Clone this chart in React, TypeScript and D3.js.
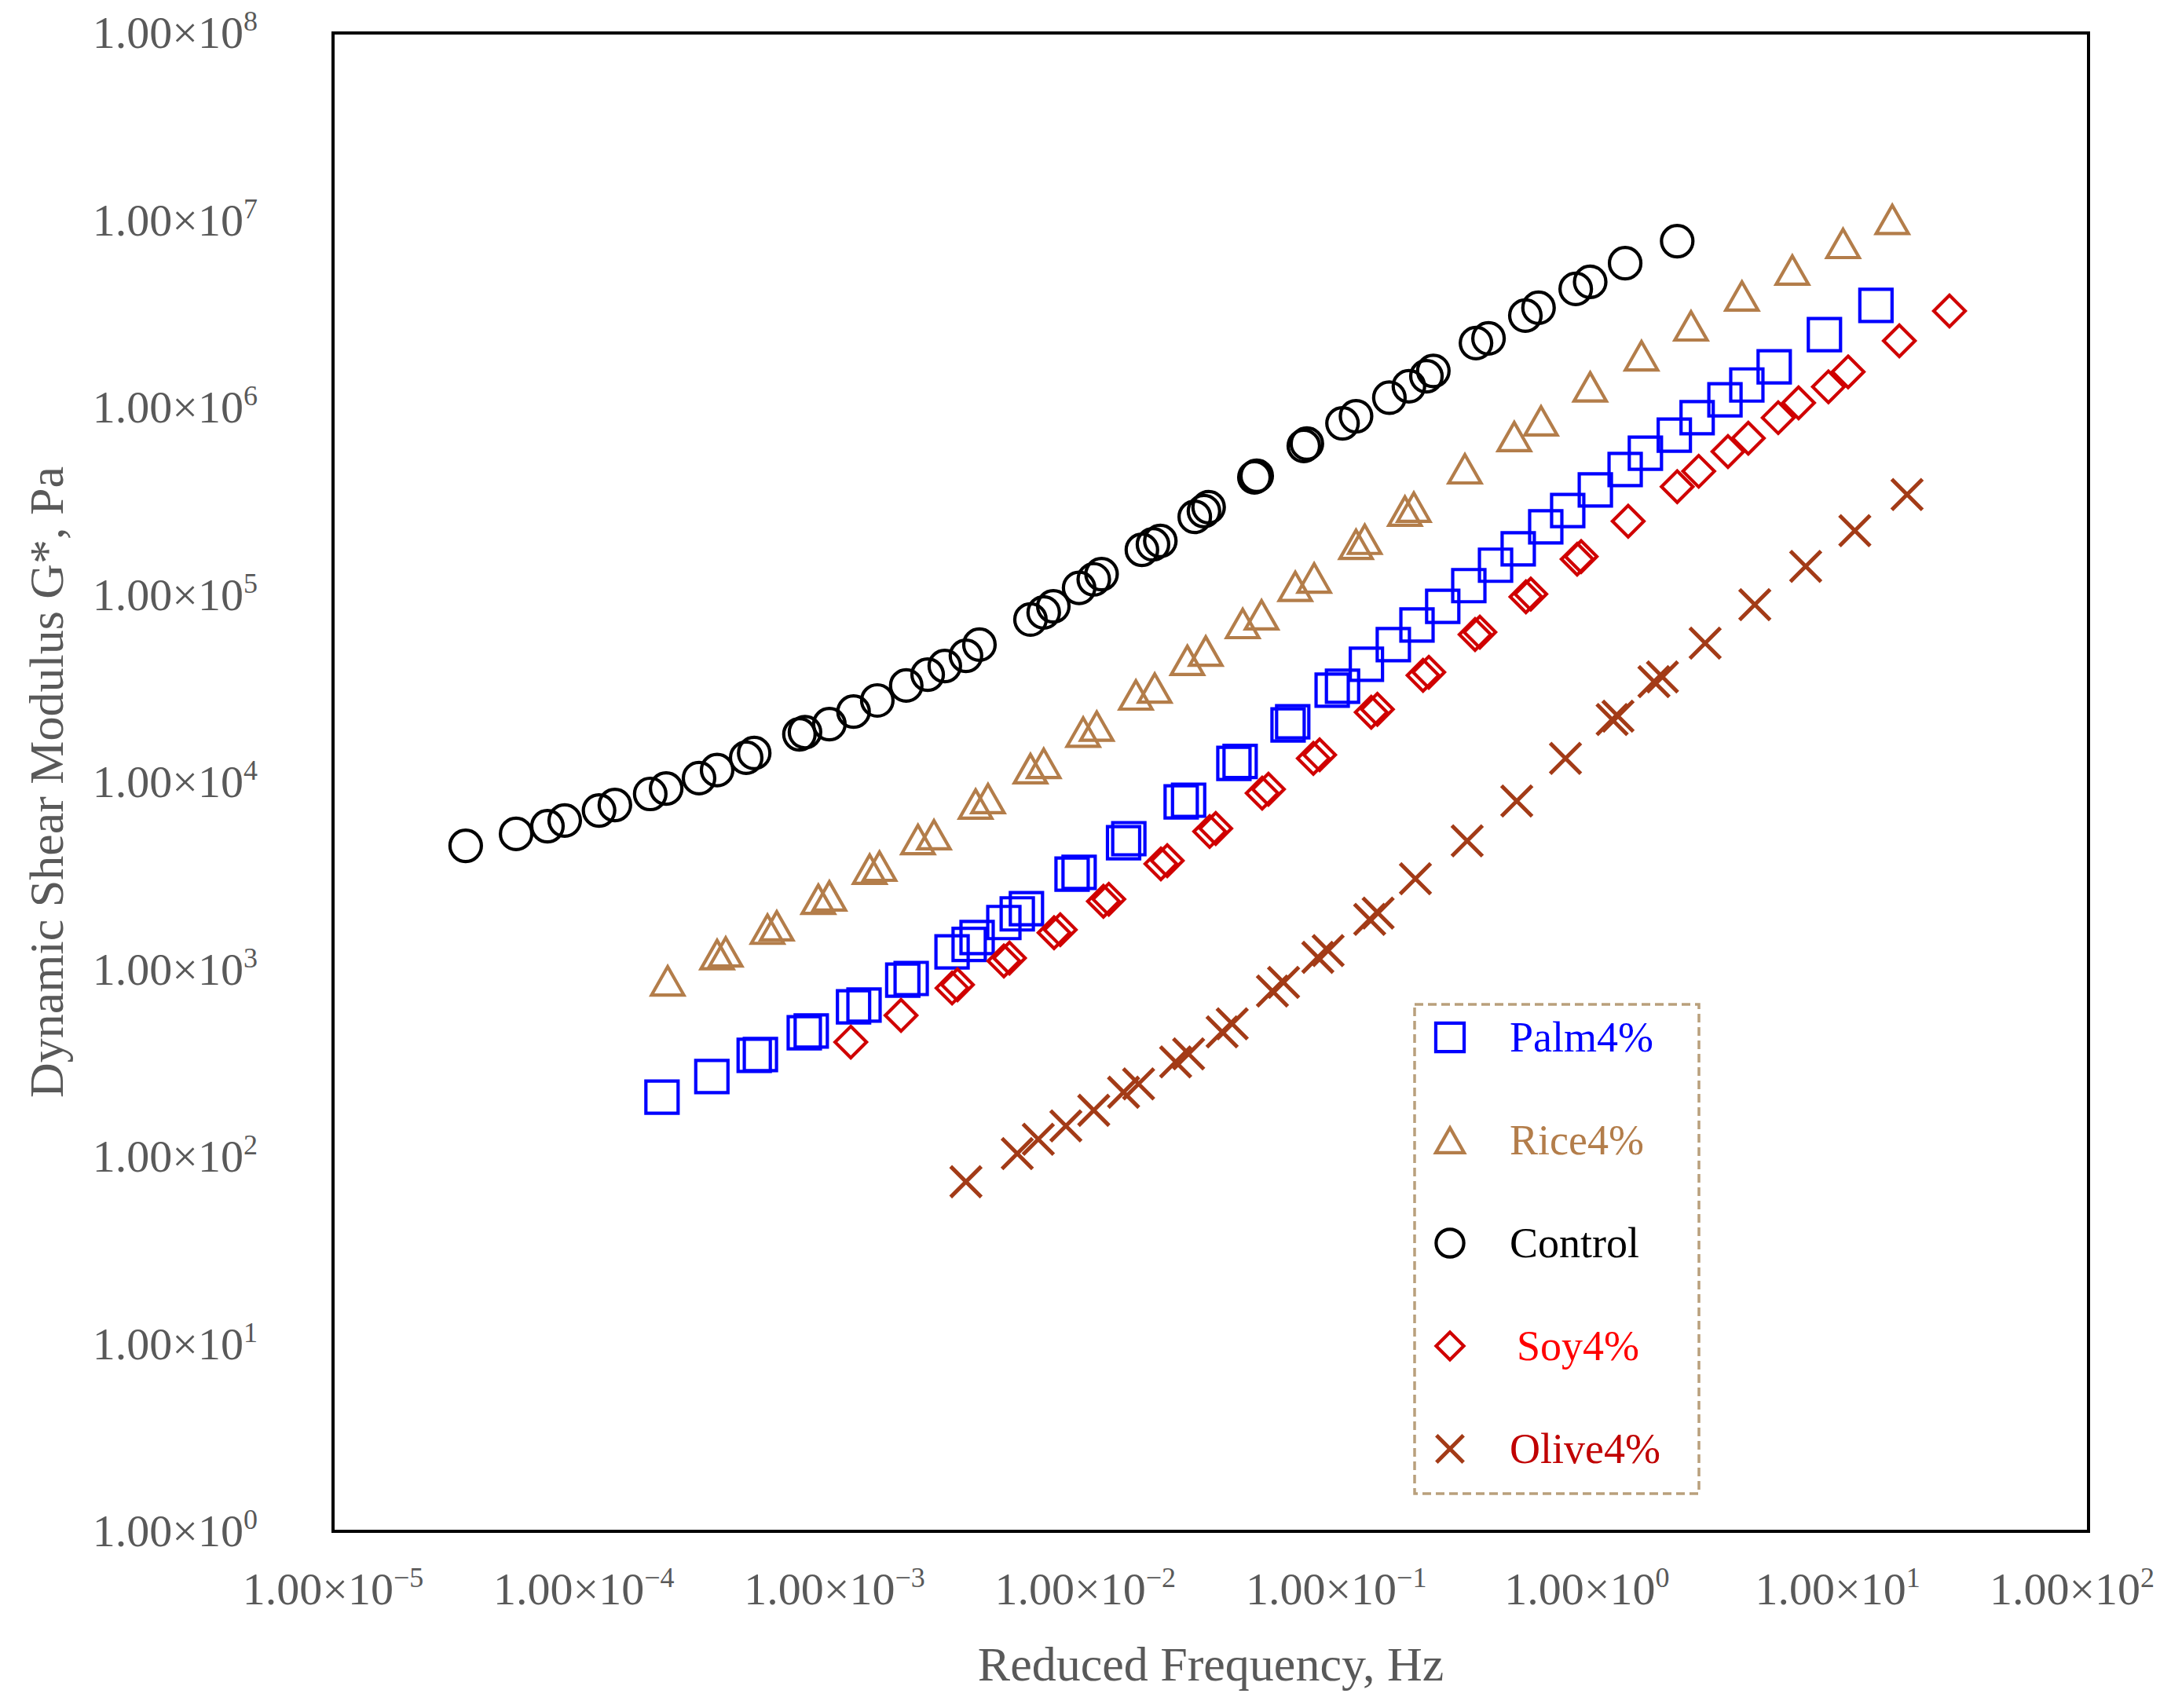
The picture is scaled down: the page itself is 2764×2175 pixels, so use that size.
import * as d3 from 'd3';

// Reduced frequency (Hz) and |G*| (Pa)
const palmFreq = [
  2.05e-4, 3.24e-4, 4.78e-4, 5.06e-4, 7.57e-4, 8.07e-4, 1.19e-3, 1.31e-3, 1.87e-3, 2.02e-3,
  2.94e-3, 3.44e-3, 3.7e-3, 4.73e-3, 5.35e-3, 5.82e-3, 8.85e-3, 9.44e-3, 1.42e-2, 1.49e-2,
  2.41e-2, 2.58e-2, 3.91e-2, 4.14e-2, 6.43e-2, 6.71e-2, 9.64e-2, 0.106, 0.132, 0.169,
  0.21, 0.266, 0.338, 0.432, 0.532, 0.685, 0.838, 1.08, 1.42, 1.71,
  2.23, 2.75, 3.55, 4.34, 5.58, 8.85, 14.2,
];
const palmG = [
  208, 268, 348, 351, 459, 469, 632, 645, 877, 895,
  1240, 1360, 1480, 1780, 1980, 2110, 3230, 3300, 4750, 4990,
  7850, 8010, 12600, 12900, 20200, 21000, 31000, 32500, 42600, 54200,
  69000, 86900, 112000, 144000, 176000, 231000, 282000, 363000, 467000, 571000,
  713000, 883000, 1100000, 1320000, 1650000, 2450000, 3510000,
];

const riceFreq = [
  2.16e-4, 3.4e-4, 3.68e-4, 5.4e-4, 5.88e-4, 8.61e-4, 9.53e-4, 1.38e-3, 1.51e-3, 2.15e-3,
  2.49e-3, 3.65e-3, 4.09e-3, 6.04e-3, 6.82e-3, 9.8e-3, 1.11e-2, 1.59e-2, 1.89e-2, 2.55e-2,
  3.02e-2, 4.24e-2, 5.04e-2, 6.87e-2, 8.17e-2, 0.12, 0.13, 0.188, 0.204, 0.326,
  0.513, 0.656, 1.03, 1.65, 2.6, 4.15, 6.59, 10.5, 16.5,
];
const riceG = [
  869, 1200, 1240, 1640, 1710, 2370, 2470, 3430, 3560, 4940,
  5240, 7640, 8170, 11800, 12600, 18500, 19900, 29200, 31800, 44700,
  50100, 70300, 78200, 111000, 123000, 186000, 198000, 280000, 294000, 471000,
  700000, 849000, 1290000, 1890000, 2730000, 3940000, 5420000, 7520000, 10100000,
];

const controlFreq = [
  3.38e-5, 5.37e-5, 7.16e-5, 8.39e-5, 1.15e-4, 1.33e-4, 1.84e-4, 2.13e-4, 2.88e-4, 3.4e-4,
  4.44e-4, 4.78e-4, 7.24e-4, 7.62e-4, 9.53e-4, 1.19e-3, 1.48e-3, 1.93e-3, 2.35e-3, 2.75e-3,
  3.34e-3, 3.78e-3, 6.04e-3, 6.82e-3, 7.45e-3, 9.44e-3, 1.08e-2, 1.16e-2, 1.68e-2, 1.86e-2,
  1.99e-2, 2.73e-2, 2.97e-2, 3.1e-2, 4.72e-2, 4.82e-2, 7.43e-2, 7.64e-2, 0.106, 0.12,
  0.163, 0.195, 0.229, 0.244, 0.361, 0.405, 0.568, 0.641, 0.902, 1.03,
  1.42, 2.29,
];
const controlG = [
  4570, 5290, 5820, 6240, 7060, 7550, 8650, 9250, 10500, 11600,
  13500, 14300, 18000, 18500, 20400, 23800, 27300, 32800, 37500, 41700,
  47300, 54200, 73800, 80500, 86900, 109000, 121000, 129000, 174000, 186000,
  194000, 261000, 280000, 294000, 424000, 432000, 624000, 642000, 824000, 899000,
  1130000, 1300000, 1470000, 1570000, 2210000, 2340000, 3100000, 3410000, 4300000, 4690000,
  5900000, 7740000,
];

const soyFreq = [
  1.16e-3, 1.84e-3, 2.94e-3, 3.09e-3, 4.73e-3, 4.98e-3, 7.5e-3, 7.94e-3, 1.18e-2, 1.24e-2,
  2.0e-2, 2.12e-2, 3.13e-2, 3.31e-2, 5.07e-2, 5.37e-2, 8.11e-2, 8.59e-2, 0.138, 0.146,
  0.222, 0.234, 0.358, 0.374, 0.571, 0.597, 0.914, 0.948, 1.46, 2.29,
  2.79, 3.65, 4.4, 5.79, 6.98, 9.18, 11.0, 17.6, 27.9,
];
const soyG = [
  409, 569, 796, 828, 1110, 1150, 1570, 1630, 2310, 2370,
  3660, 3810, 5450, 5660, 8730, 9160, 13400, 14000, 23600, 24500,
  37200, 38600, 61400, 63200, 97700, 101000, 155000, 160000, 247000, 378000,
  457000, 582000, 686000, 883000, 1060000, 1290000, 1550000, 2270000, 3280000,
];

const oliveFreq = [
  3.34e-3, 5.35e-3, 6.49e-3, 8.36e-3, 1.08e-2, 1.42e-2, 1.63e-2, 2.29e-2, 2.58e-2, 3.51e-2,
  3.85e-2, 5.57e-2, 6.17e-2, 8.45e-2, 9.29e-2, 0.136, 0.147, 0.207, 0.333, 0.525,
  0.821, 1.26, 1.33, 1.85, 2.0, 2.96, 4.67, 7.45, 11.7, 18.9,
];
const oliveG = [
  73.5, 104, 124, 146, 177, 221, 245, 321, 354, 464,
  512, 767, 853, 1160, 1260, 1850, 2000, 3050, 4860, 7930,
  13400, 21600, 22500, 34400, 36500, 55200, 88700, 142000, 220000, 343000,
];

const xTickExps = [-5, -4, -3, -2, -1, 0, 1, 2];
const yTickExps = [0, 1, 2, 3, 4, 5, 6, 7, 8];

const WIDTH = 2764;
const HEIGHT = 2175;
const plot = { left: 424, right: 2659, top: 42, bottom: 1950 };
const FONT = "'Liberation Serif', 'Times New Roman', serif";
const AXIS_GREY = '#595959';

type Shape = 'square' | 'triangle' | 'circle' | 'diamond' | 'cross';

interface Series {
  name: string;
  shape: Shape;
  color: string;
  labelColor: string;
  freq: number[];
  g: number[];
}

// legend order = drawing order
const SERIES: Series[] = [
  { name: 'Palm4%', shape: 'square', color: '#0000ff', labelColor: '#0000ff', freq: palmFreq, g: palmG },
  { name: 'Rice4%', shape: 'triangle', color: '#b37d4a', labelColor: '#b37d4a', freq: riceFreq, g: riceG },
  { name: 'Control', shape: 'circle', color: '#000000', labelColor: '#000000', freq: controlFreq, g: controlG },
  { name: 'Soy4%', shape: 'diamond', color: '#d00000', labelColor: '#ff0000', freq: soyFreq, g: soyG },
  { name: 'Olive4%', shape: 'cross', color: '#a33b17', labelColor: '#c00000', freq: oliveFreq, g: oliveG },
];

function markerPath(shape: Shape, s = 1): string {
  if (shape === 'square') return d3.symbol(d3.symbolSquare, (41 * s) ** 2)() ?? '';
  if (shape === 'circle') return d3.symbol(d3.symbolCircle, Math.PI * (20 * s) ** 2)() ?? '';
  const p = d3.path();
  if (shape === 'triangle') {
    const hw = 20.5 * s;
    const hh = 18 * s;
    p.moveTo(0, -hh);
    p.lineTo(hw, hh);
    p.lineTo(-hw, hh);
    p.closePath();
  } else if (shape === 'diamond') {
    const r = 20 * s;
    p.moveTo(0, -r);
    p.lineTo(r, 0);
    p.lineTo(0, r);
    p.lineTo(-r, 0);
    p.closePath();
  } else {
    const r = 19.5 * s;
    p.moveTo(-r, -r);
    p.lineTo(r, r);
    p.moveTo(-r, r);
    p.lineTo(r, -r);
  }
  return p.toString();
}

const strokeFor = (shape: Shape) => (shape === 'cross' ? 5 : 4.2);

function PowerLabel({ exp, x, y, anchor }: { exp: number; x: number; y: number; anchor: string }) {
  const sup = exp < 0 ? `\u2212${-exp}` : `${exp}`;
  return (
    <text x={x} y={y} textAnchor={anchor} fontSize={58} fill={AXIS_GREY} fontFamily={FONT}>
      1.00×10
      <tspan fontSize={36} dy={-22}>
        {sup}
      </tspan>
    </text>
  );
}

export default function App() {
  const x = d3.scaleLog().domain([1e-5, 1e2]).range([plot.left, plot.right]);
  const y = d3.scaleLog().domain([1, 1e8]).range([plot.bottom, plot.top]);

  const legend = { x: 1801, y: 1279, w: 362, h: 623, rowTop: 1321, rowGap: 131 };

  return (
    <svg
      width={WIDTH}
      height={HEIGHT}
      viewBox={`0 0 ${WIDTH} ${HEIGHT}`}
      style={{ position: 'absolute', left: 0, top: 0, background: '#fff' }}
    >
      <rect x={0} y={0} width={WIDTH} height={HEIGHT} fill='#fff' />

      {/* y tick labels */}
      {yTickExps.map((e) => (
        <PowerLabel key={`y${e}`} exp={e} x={328} y={y(10 ** e) + 19} anchor='end' />
      ))}

      {/* x tick labels, last one pulled in to stay inside the picture */}
      {xTickExps.map((e) => (
        <PowerLabel
          key={`x${e}`}
          exp={e}
          x={Math.min(x(10 ** e), WIDTH - 21 - 105)}
          y={2043}
          anchor='middle'
        />
      ))}

      <text
        x={(plot.left + plot.right) / 2}
        y={2140}
        textAnchor='middle'
        fontSize={62}
        fill={AXIS_GREY}
        fontFamily={FONT}
      >
        Reduced Frequency, Hz
      </text>
      <text
        transform={`translate(80, ${(plot.top + plot.bottom) / 2}) rotate(-90)`}
        textAnchor='middle'
        fontSize={62}
        fill={AXIS_GREY}
        fontFamily={FONT}
      >
        Dynamic Shear Modulus G*, Pa
      </text>

      {/* data */}
      {SERIES.map((s) => {
        const d = markerPath(s.shape);
        return (
          <g key={s.name}>
            {s.freq.map((f, i) => (
              <path
                key={i}
                d={d}
                transform={`translate(${x(f)},${y(s.g[i])})`}
                fill='none'
                stroke={s.color}
                strokeWidth={strokeFor(s.shape)}
              />
            ))}
          </g>
        );
      })}

      {/* plot frame */}
      <rect
        x={plot.left}
        y={plot.top}
        width={plot.right - plot.left}
        height={plot.bottom - plot.top}
        fill='none'
        stroke='#000'
        strokeWidth={4}
      />

      {/* legend */}
      <rect
        x={legend.x}
        y={legend.y}
        width={legend.w}
        height={legend.h}
        fill='#fff'
        stroke='#b9a07c'
        strokeWidth={3.5}
        strokeDasharray='11 6'
      />
      {SERIES.map((s, i) => {
        const cy = legend.rowTop + i * legend.rowGap;
        return (
          <g key={`leg-${s.name}`}>
            <path
              d={markerPath(s.shape, 0.88)}
              transform={`translate(1846,${cy})`}
              fill='none'
              stroke={s.color}
              strokeWidth={strokeFor(s.shape)}
            />
            <text
              x={s.shape === 'diamond' ? 1931 : 1922}
              y={cy + 18}
              fontSize={54}
              fill={s.labelColor}
              fontFamily={FONT}
            >
              {s.name}
            </text>
          </g>
        );
      })}
    </svg>
  );
}
